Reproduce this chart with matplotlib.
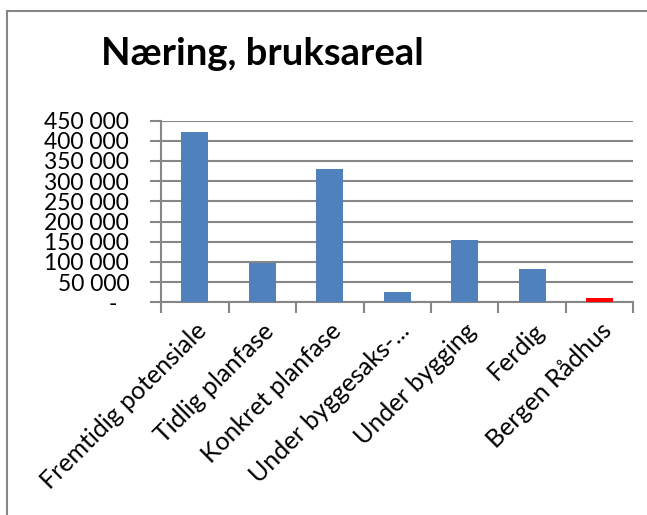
import numpy as np
import matplotlib.pyplot as plt
from matplotlib.patches import Rectangle
from matplotlib.ticker import FuncFormatter

# Data
kategorier = ["Fremtidig potensiale", "Tidlig planfase", "Konkret planfase",
              "Under byggesaks-...", "Under bygging", "Ferdig", "Bergen Rådhus"]
areal = [421000, 98000, 330000, 26000, 154500, 82000, 10500]
farger = ["#4F81BD"] * 6 + ["#FF0000"]

plt.rcParams['font.family'] = ['Lato', 'DejaVu Sans']

fig = plt.figure(figsize=(6.47, 5.15), dpi=100)
ax = fig.add_axes([0.249, 0.413, 0.730, 0.353])

x = np.arange(len(kategorier))
ax.bar(x, areal, width=0.4, color=farger, zorder=3)

ax.set_xlim(-0.5, len(kategorier) - 0.5)
ax.set_ylim(0, 450000)
ax.set_yticks(np.arange(0, 450001, 50000))


def fmt(v, pos):
    if v == 0:
        return "-  "
    return f"{int(v):,}".replace(",", " ")


ax.yaxis.set_major_formatter(FuncFormatter(fmt))
ax.grid(axis='y', color="#868686", linewidth=1.5, zorder=0)
ax.set_axisbelow(True)

# x ticks at category boundaries, labels in the middle
ax.set_xticks(np.arange(-0.5, len(kategorier), 1.0))
ax.set_xticklabels([])
ax.set_xticks(x, minor=True)
ax.set_xticklabels(kategorier, minor=True, rotation=45, ha='right',
                   rotation_mode='anchor', fontsize=18)
ax.tick_params(axis='x', which='minor', length=0, pad=12)
ax.tick_params(axis='x', which='major', length=8, width=1.5, color="#868686")
ax.tick_params(axis='y', length=8, width=1.5, color="#868686",
               labelsize=16.5, pad=15)

for side in ['top', 'right']:
    ax.spines[side].set_visible(False)
for side in ['left', 'bottom']:
    ax.spines[side].set_color("#868686")
    ax.spines[side].set_linewidth(1.5)

fig.text(0.405, 0.874, "Næring, bruksareal", ha='center', va='baseline',
         fontsize=27.5, fontweight='bold')

# chart border (cut off at right and bottom)
fig.patches.append(Rectangle((0.011, -0.1), 1.2, 0.1 + 0.979, fill=False,
                             edgecolor="#868686", linewidth=1.5,
                             transform=fig.transFigure, figure=fig))

fig.savefig("out.png", dpi=100)
